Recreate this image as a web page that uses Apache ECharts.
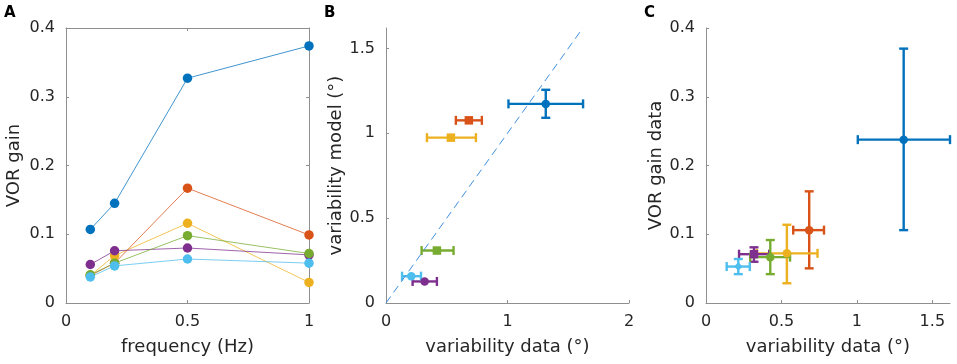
<!DOCTYPE html>
<html>
<head>
<meta charset="utf-8">
<script src="https://cdn.jsdelivr.net/npm/echarts@6.0.0/dist/echarts.min.js"></script>
<style>
    html, body { margin: 0; padding: 0; background: #fff; }
    #chart_main { width: 957px; height: 364px; }
</style>
</head>
<body>
<div id="chart_main"></div>
<script>
/* panel A: gain vs frequency */
var freq = [0.1, 0.2, 0.5, 1];
var gainBlue = [0.107, 0.145, 0.327, 0.374];
var gainRed = [0.040, 0.058, 0.167, 0.099];
var gainYellow = [0.040, 0.069, 0.116, 0.030];
var gainPurple = [0.056, 0.076, 0.080, 0.070];
var gainGreen = [0.041, 0.058, 0.098, 0.072];
var gainCyan = [0.038, 0.054, 0.064, 0.058];

/* panel B: variability model vs data (blue, red, yellow, purple, green, cyan) */
var bX = [1.315, 0.682, 0.534, 0.318, 0.419, 0.208];
var bY = [1.173, 1.076, 0.974, 0.127, 0.309, 0.158];
var bXlo = [1.008, 0.575, 0.337, 0.219, 0.293, 0.132];
var bXhi = [1.622, 0.789, 0.740, 0.419, 0.556, 0.288];
var bYlo = [1.091, 1.076, 0.974, 0.127, 0.309, 0.158];
var bYhi = [1.256, 1.076, 0.974, 0.127, 0.309, 0.158];
var identityLine = [[0, 0], [1.62, 1.62]];

/* panel C: VOR gain vs variability data */
var cX = [1.310, 0.684, 0.536, 0.318, 0.426, 0.214];
var cY = [0.2376, 0.106, 0.0722, 0.071, 0.0667, 0.053];
var cXlo = [1.006, 0.578, 0.337, 0.219, 0.293, 0.137];
var cXhi = [1.617, 0.782, 0.739, 0.419, 0.557, 0.290];
var cYlo = [0.106, 0.0504, 0.0287, 0.060, 0.042, 0.042];
var cYhi = [0.370, 0.1624, 0.1138, 0.081, 0.0916, 0.064];

/* tick labels */
var ticksA_x = [0, 0.5, 1];
var ticksA_y = [0, 0.1, 0.2, 0.3, 0.4];
var ticksB_x = [0, 1, 2];
var ticksB_y = [0, 0.5, 1, 1.5];
var ticksC_x = [0, 0.5, 1, 1.5];
var ticksC_y = [0, 0.1, 0.2, 0.3, 0.4];

var colors = ['#0072BD', '#D95319', '#EDB120', '#7E2F8E', '#77AC30', '#4DBEEE'];
var shapesB = ['circle', 'rect', 'rect', 'circle', 'rect', 'circle'];
var shapesC = ['circle', 'circle', 'circle', 'rect', 'circle', 'diamond'];
var axisGray = '#8f8f8f';
var textColor = '#262626';
var fontFam = 'DejaVu Sans';

function makeAxis(grid, pos, min, max, ticks, name, nameGap, showLabel) {
    return {
        type: 'value',
        gridIndex: grid,
        position: pos,
        min: min,
        max: max,
        name: name,
        nameLocation: 'middle',
        nameGap: nameGap,
        nameTextStyle: { color: textColor, fontSize: 18, fontFamily: fontFam },
        splitLine: { show: false },
        axisLine: { show: true, onZero: false, lineStyle: { color: axisGray, width: 1 } },
        axisTick: { show: true, inside: true, length: 3, customValues: ticks, lineStyle: { color: axisGray } },
        axisLabel: {
            show: showLabel,
            customValues: ticks,
            margin: 11,
            color: textColor,
            fontSize: 16,
            fontFamily: fontFam
        }
    };
}

function errorBarItem(params, api) {
    var x = api.value(0), y = api.value(1);
    var xlo = api.value(2), xhi = api.value(3), ylo = api.value(4), yhi = api.value(5);
    var pL = api.coord([xlo, y]), pR = api.coord([xhi, y]);
    var pB = api.coord([x, ylo]), pT = api.coord([x, yhi]);
    var cap = 4.5;
    var st = { stroke: api.visual('color'), lineWidth: 2.4 };
    var kids = [];
    if (xhi > xlo) {
        kids.push({ type: 'line', shape: { x1: pL[0], y1: pL[1], x2: pR[0], y2: pR[1] }, style: st });
        kids.push({ type: 'line', shape: { x1: pL[0], y1: pL[1] - cap, x2: pL[0], y2: pL[1] + cap }, style: st });
        kids.push({ type: 'line', shape: { x1: pR[0], y1: pR[1] - cap, x2: pR[0], y2: pR[1] + cap }, style: st });
    }
    if (yhi > ylo) {
        kids.push({ type: 'line', shape: { x1: pB[0], y1: pB[1], x2: pT[0], y2: pT[1] }, style: st });
        kids.push({ type: 'line', shape: { x1: pB[0] - cap, y1: pB[1], x2: pB[0] + cap, y2: pB[1] }, style: st });
        kids.push({ type: 'line', shape: { x1: pT[0] - cap, y1: pT[1], x2: pT[0] + cap, y2: pT[1] }, style: st });
    }
    return { type: 'group', children: kids };
}

var chart_main = echarts.init(document.getElementById('chart_main'), null, { renderer: 'canvas' });

var series = [];
var gainList = [gainBlue, gainRed, gainYellow, gainPurple, gainGreen, gainCyan];
for (var i = 0; i < gainList.length; i++) {
    var pts = [];
    for (var k = 0; k < freq.length; k++) {
        pts.push([freq[k], gainList[i][k]]);
    }
    series.push({
        type: 'line',
        xAxisIndex: 0,
        yAxisIndex: 0,
        data: pts,
        symbol: 'circle',
        symbolSize: 9.5,
        showSymbol: true,
        animation: false,
        itemStyle: { color: colors[i], opacity: 1 },
        lineStyle: { color: colors[i], width: 1, opacity: 0.75 }
    });
}

// dashed identity line in B
series.push({
    type: 'line',
    xAxisIndex: 2,
    yAxisIndex: 2,
    data: identityLine,
    symbol: 'none',
    animation: false,
    lineStyle: { color: '#3f8fdc', width: 1, type: [8, 5] }
});

function pushErrorSeries(xi, yi, X, Y, Xlo, Xhi, Ylo, Yhi, shapes, size) {
    for (var j = 0; j < X.length; j++) {
        series.push({
            type: 'custom',
            xAxisIndex: xi,
            yAxisIndex: yi,
            renderItem: errorBarItem,
            itemStyle: { color: colors[j] },
            animation: false,
            encode: { x: 0, y: 1 },
            data: [[X[j], Y[j], Xlo[j], Xhi[j], Ylo[j], Yhi[j]]]
        });
        series.push({
            type: 'scatter',
            xAxisIndex: xi,
            yAxisIndex: yi,
            symbol: shapes[j],
            symbolSize: size,
            animation: false,
            itemStyle: { color: colors[j], opacity: 1 },
            data: [[X[j], Y[j]]]
        });
    }
}
pushErrorSeries(2, 2, bX, bY, bXlo, bXhi, bYlo, bYhi, shapesB, 8.5);
pushErrorSeries(3, 3, cX, cY, cXlo, cXhi, cYlo, cYhi, shapesC, 8.5);

var letterStyle = { fontSize: 15, fontWeight: 'bold', color: '#000', fontFamily: fontFam };
var option = {
    backgroundColor: '#ffffff',
    title: [
        { text: 'A', left: 4, top: 6, padding: 0, textStyle: letterStyle },
        { text: 'B', left: 324, top: 6, padding: 0, textStyle: letterStyle },
        { text: 'C', left: 644, top: 6, padding: 0, textStyle: letterStyle }
    ],
    grid: [
        { left: 66, top: 28, width: 243, height: 275 },
        { left: 386, top: 28, width: 243, height: 275 },
        { left: 706, top: 28, width: 244, height: 275 }
    ],
    xAxis: [
        makeAxis(0, 'bottom', 0, 1, ticksA_x, 'frequency (Hz)', 35, true),
        makeAxis(0, 'top', 0, 1, ticksA_x, '', 0, false),
        makeAxis(1, 'bottom', 0, 2, ticksB_x, 'variability data (°)', 35, true),
        makeAxis(2, 'bottom', 0, 1.617, ticksC_x, 'variability data (°)', 35, true)
    ],
    yAxis: [
        makeAxis(0, 'left', 0, 0.4, ticksA_y, 'VOR gain', 43, true),
        makeAxis(0, 'right', 0, 0.4, ticksA_y, '', 0, false),
        makeAxis(1, 'left', 0, 1.62, ticksB_y, 'variability model (°)', 41, true),
        makeAxis(2, 'left', 0, 0.4, ticksC_y, 'VOR gain data', 41, true)
    ],
    series: series
};
chart_main.setOption(option);
</script>
</body>
</html>
